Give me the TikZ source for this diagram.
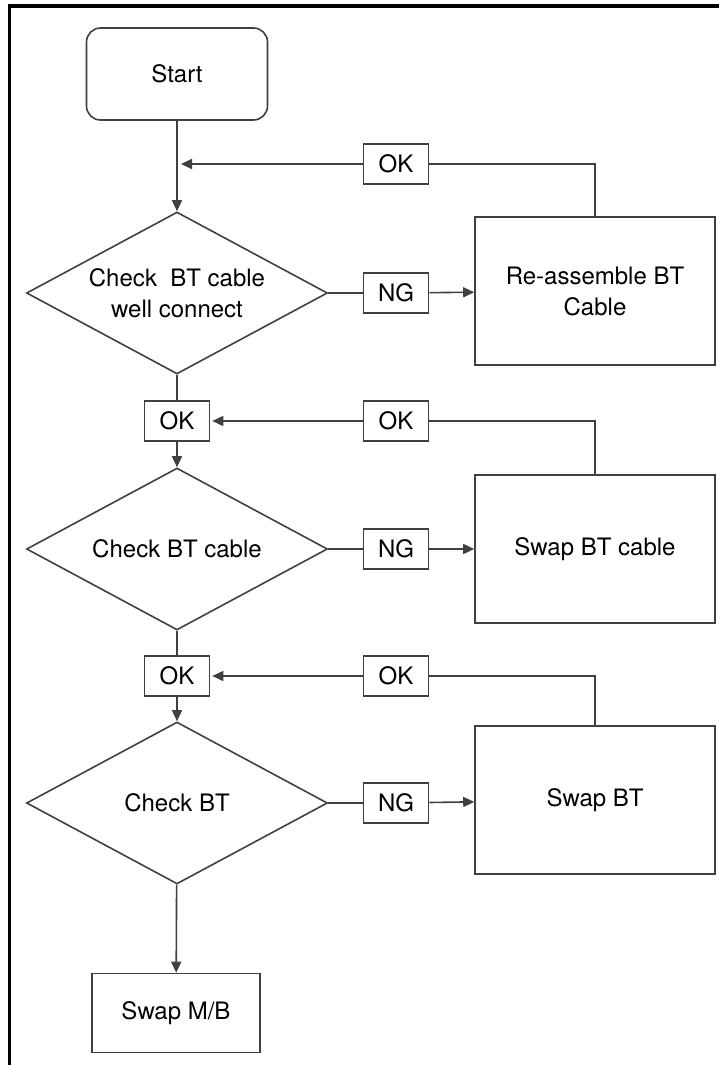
\documentclass[tikz,border=0pt]{standalone}
\usepackage{fontspec}
\setmainfont{TeX Gyre Heros}
\usepackage{tikz}
\usetikzlibrary{arrows.meta,shapes.geometric}
\tikzset{
  startbox/.style = {rectangle, rounded corners=14pt, draw=black!75, line width=1.6pt,
                     minimum width=181pt, minimum height=92pt, inner sep=0pt},
  check/.style    = {diamond, aspect=1.86, draw=black!75, line width=1.6pt, align=center,
                     minimum width=301pt, minimum height=162pt, inner sep=0pt},
  fixbox/.style   = {rectangle, draw=black!75, line width=1.6pt, align=center,
                     minimum width=240pt, minimum height=148pt, inner sep=0pt},
  tag/.style      = {rectangle, draw=black!75, line width=1.6pt,
                     minimum width=65pt, minimum height=40pt, inner sep=0pt},
  flow/.style     = {-{Triangle[length=11pt,width=10pt]}, line width=1.6pt, black!75},
  link/.style     = {line width=1.6pt, black!75},
}

\begin{document}
\begin{tikzpicture}[x=1pt, y=-1pt, font=\fontsize{24}{31}\selectfont]
\useasboundingbox (0,0) rectangle (719,1065) ;
\draw[line width=3.5pt] (9.5,1065) -- (9.5,6) -- (719,6) ;

\node[startbox] (start) at (177,74) {Start} ;
\node[check]    (d1)    at (177,293) {Check\ \ BT cable\\well connect} ;
\node[tag]      (ng1)   at (396,293) {NG} ;
\node[fixbox]   (fix1)  at (595,291) {Re-assemble BT\\Cable} ;
\node[tag]      (okr1)  at (396,164) {OK} ;
\coordinate     (j1)    at (177,164) ;

\node[tag]      (ok2)   at (177,421) {OK} ;
\node[tag]      (okr2)  at (396,421) {OK} ;
\node[check]    (d2)    at (177,549) {Check BT cable} ;
\node[tag]      (ng2)   at (396,549) {NG} ;
\node[fixbox]   (fix2)  at (595,549) {Swap BT cable} ;

\node[tag]      (ok3)   at (177,676) {OK} ;
\node[tag]      (okr3)  at (396,676) {OK} ;
\node[check]    (d3)    at (177,803) {Check BT} ;
\node[tag]      (ng3)   at (396,803) {NG} ;
\node[fixbox]   (fix3)  at (595,800) {Swap BT} ;

\node[rectangle, draw=black!75, line width=1.6pt, minimum width=168pt, minimum height=79pt]
  (mb) at (176,1013) {Swap M/B} ;

\draw[flow] (start) -- (d1) ;
\draw[flow, shorten >=4pt] (okr1) -- (j1) ;
\draw[link] (fix1.north) |- (okr1) ;
\draw[link] (d1) -- (ng1) ;
\draw[flow] (ng1) -- (fix1) ;

\draw[link] (d1) -- (ok2) ;
\draw[flow, shorten >=2pt] (okr2) -- (ok2) ;
\draw[link] (fix2.north) |- (okr2) ;
\draw[flow] (ok2) -- (d2) ;
\draw[link] (d2) -- (ng2) ;
\draw[flow] (ng2) -- (fix2) ;

\draw[link] (d2) -- (ok3) ;
\draw[flow, shorten >=2pt] (okr3) -- (ok3) ;
\draw[link] (fix3.north) |- (okr3) ;
\draw[flow] (ok3) -- (d3) ;
\draw[link] (d3) -- (ng3) ;
\draw[flow] (ng3) -- (fix3) ;

\draw[flow] (d3) -- (mb) ;
\end{tikzpicture}
\end{document}
